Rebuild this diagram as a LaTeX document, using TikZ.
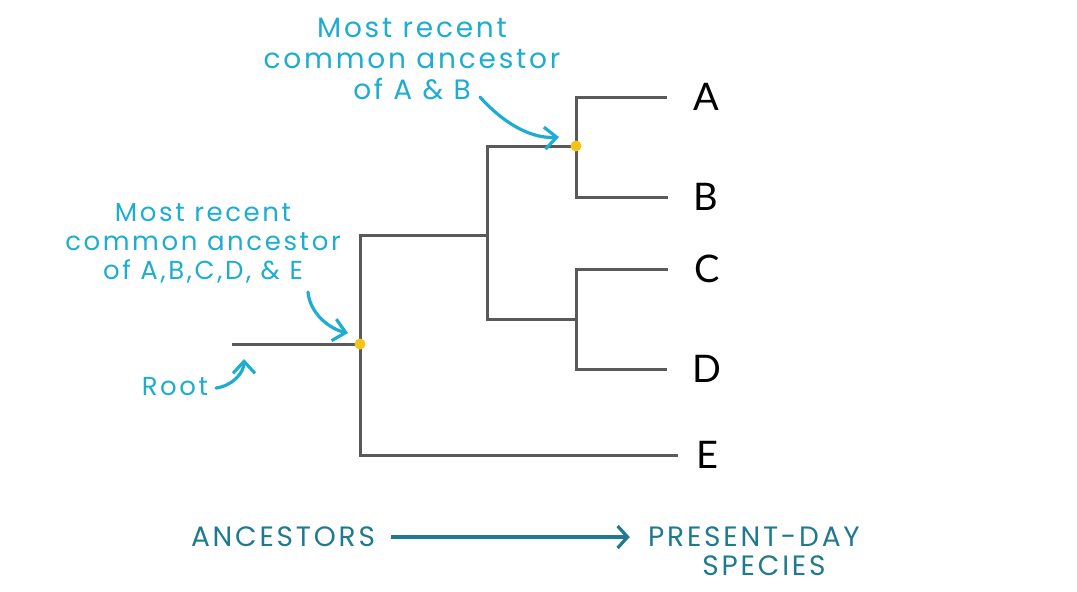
\documentclass[tikz,border=0pt]{standalone}
\usepackage{fontspec}
\setmainfont{Lato}
\newfontfamily\handfont{Poppins}[LetterSpace=10]
\usetikzlibrary{arrows.meta,positioning}
\definecolor{branchgray}{HTML}{5A5A5A}
\definecolor{notecyan}{HTML}{1EADD0}
\definecolor{axisteal}{HTML}{1F7A8E}
\definecolor{mrcayellow}{HTML}{F2C417}

\begin{document}
\begin{tikzpicture}[x=0.5pt, y=-0.5pt,
  branch/.style={branchgray, line width=1.5pt},
  taxon/.style={font=\fontsize{19}{22}\selectfont, inner sep=0pt, outer sep=13pt},
  note/.style={notecyan, font=\handfont\fontsize{14}{15.5}\selectfont, inner sep=0pt, align=center},
  notearrow/.style={notecyan, line width=1.6pt, line cap=round, -{Straight Barb[length=6pt, width=11pt]}},
  axislabel/.style={axisteal, font=\handfont\fontsize{14}{16}\selectfont, inner sep=0pt},
  axisarrow/.style={axisteal, line width=1.6pt, -{Straight Barb[length=5pt, width=11pt]}}]
\useasboundingbox (0,0) rectangle (1077,591);
\coordinate (root) at (232,344);
\coordinate (nall) at (360,344);
\coordinate (nabcd) at (487,235);
\coordinate (nab) at (576,146);
\coordinate (ncd) at (576,319);
\node[taxon] (A) at (706,97) {A};
\node[taxon] (B) at (706,197) {B};
\node[taxon] (C) at (707,269) {C};
\node[taxon] (D) at (707,369) {D};
\node[taxon, outer sep=9pt] (E) at (707,455) {E};
\draw[branch] (root) -- (nall);
\draw[branch] (nall) |- (nabcd);
\draw[branch] (nall) |- (E);
\draw[branch] (nabcd) |- (nab);
\draw[branch] (nabcd) |- (ncd);
\draw[branch] (nab) |- (A);
\draw[branch] (nab) |- (B);
\draw[branch] (ncd) |- (C);
\draw[branch] (ncd) |- (D);
\fill[mrcayellow] (nall) circle (5.5);
\fill[mrcayellow] (nab) circle (5.5);
\node[note] (noteab) at (412,59) {Most recent\\common ancestor\\of A \& B};
\node[note, font=\handfont\fontsize{13}{14.5}\selectfont] (noteall) at (203,243) {Most recent\\common ancestor\\of A,B,C,D, \& E};
\node[note, font=\handfont\fontsize{13}{14.5}\selectfont] (rootlabel) at (175,387) {Root};
\coordinate (noteabfrom) at (480,97);
\coordinate (noteabto) at (559,137);
\coordinate (noteallfrom) at (308,292);
\coordinate (noteallto) at (348,333);
\coordinate (rootfrom) at (216,388);
\coordinate (rootto) at (244,359);
\draw[notearrow] (noteabfrom) .. controls +(25,28) and +(-26,2) .. (noteabto);
\draw[notearrow] (noteallfrom) .. controls +(2,22) and +(-18,-4) .. (noteallto);
\draw[notearrow] (rootfrom) .. controls +(16,-2) and +(0,14) .. (rootto);
\node[axislabel] (ancestors) at (283,537) {ANCESTORS};
\node[axislabel] (present) at (754,537) {PRESENT-DAY};
\node[axislabel, below=4pt of present, xshift=5pt] (species) {SPECIES};
\draw[axisarrow, shorten <=8pt, shorten >=9pt] (ancestors) -- (present);
\end{tikzpicture}
\end{document}
